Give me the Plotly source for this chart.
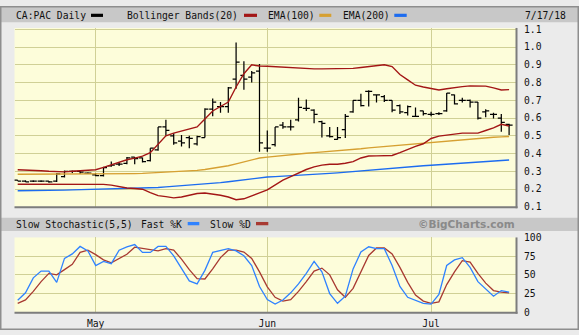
import plotly.graph_objects as go

# ---- trading days ----
dates = [
    "2018-04-17", "2018-04-18", "2018-04-19", "2018-04-20", "2018-04-23", "2018-04-24",
    "2018-04-25", "2018-04-26", "2018-04-27", "2018-04-30", "2018-05-01", "2018-05-02",
    "2018-05-03", "2018-05-04", "2018-05-07", "2018-05-08", "2018-05-09", "2018-05-10",
    "2018-05-11", "2018-05-14", "2018-05-15", "2018-05-16", "2018-05-17", "2018-05-18",
    "2018-05-22", "2018-05-23", "2018-05-24", "2018-05-25", "2018-05-28", "2018-05-29",
    "2018-05-30", "2018-05-31", "2018-06-01", "2018-06-04", "2018-06-05", "2018-06-06",
    "2018-06-07", "2018-06-08", "2018-06-11", "2018-06-12", "2018-06-13", "2018-06-14",
    "2018-06-15", "2018-06-18", "2018-06-19", "2018-06-20", "2018-06-21", "2018-06-22",
    "2018-06-25", "2018-06-26", "2018-06-27", "2018-06-28", "2018-06-29", "2018-07-03",
    "2018-07-04", "2018-07-05", "2018-07-06", "2018-07-09", "2018-07-10", "2018-07-11",
    "2018-07-12", "2018-07-13", "2018-07-16", "2018-07-17",
]

# ---- CA:PAC daily prices ----
open_ = [
    0.25, 0.245, 0.245, 0.245, 0.245, 0.245, 0.27, 0.30, 0.30, 0.29, 0.28, 0.275,
    0.33, 0.34, 0.345, 0.38, 0.375, 0.36, 0.42, 0.55, 0.50, 0.47, 0.49, 0.455,
    0.49, 0.65, 0.665, 0.665, 0.82, 0.84, 0.83, 0.865, 0.43, 0.45, 0.56, 0.55,
    0.59, 0.655, 0.645, 0.58, 0.50, 0.48, 0.535, 0.635, 0.70, 0.75, 0.73, 0.72,
    0.70, 0.67, 0.63, 0.61, 0.64, 0.62, 0.625, 0.64, 0.73, 0.70, 0.70, 0.69,
    0.635, 0.62, 0.60, 0.565,
]
high = [
    0.25, 0.25, 0.25, 0.25, 0.245, 0.29, 0.305, 0.305, 0.305, 0.295, 0.29, 0.325,
    0.355, 0.35, 0.38, 0.38, 0.378, 0.43, 0.55, 0.59, 0.515, 0.505, 0.50, 0.50,
    0.655, 0.71, 0.69, 0.775, 1.025, 0.92, 0.865, 0.905, 0.53, 0.55, 0.578, 0.59,
    0.715, 0.705, 0.65, 0.585, 0.55, 0.55, 0.623, 0.70, 0.737, 0.756, 0.732, 0.73,
    0.70, 0.677, 0.67, 0.66, 0.641, 0.636, 0.632, 0.741, 0.732, 0.714, 0.705, 0.69,
    0.65, 0.63, 0.623, 0.568,
]
low = [
    0.245, 0.24, 0.24, 0.24, 0.235, 0.24, 0.265, 0.29, 0.285, 0.285, 0.272, 0.27,
    0.325, 0.33, 0.34, 0.34, 0.35, 0.355, 0.415, 0.50, 0.45, 0.44, 0.43, 0.445,
    0.49, 0.61, 0.63, 0.63, 0.765, 0.76, 0.80, 0.41, 0.41, 0.44, 0.54, 0.53,
    0.58, 0.64, 0.57, 0.49, 0.49, 0.478, 0.487, 0.63, 0.665, 0.665, 0.687, 0.69,
    0.632, 0.623, 0.615, 0.61, 0.614, 0.61, 0.617, 0.636, 0.677, 0.687, 0.66, 0.592,
    0.605, 0.598, 0.523, 0.505,
]
close = [
    0.245, 0.24, 0.245, 0.245, 0.24, 0.285, 0.30, 0.30, 0.295, 0.29, 0.275, 0.32,
    0.335, 0.34, 0.375, 0.372, 0.355, 0.43, 0.55, 0.53, 0.46, 0.46, 0.485, 0.495,
    0.65, 0.69, 0.665, 0.77, 0.915, 0.82, 0.855, 0.46, 0.43, 0.55, 0.55, 0.55,
    0.66, 0.655, 0.62, 0.57, 0.495, 0.49, 0.61, 0.70, 0.67, 0.75, 0.73, 0.70,
    0.645, 0.635, 0.665, 0.61, 0.625, 0.62, 0.625, 0.74, 0.68, 0.70, 0.69, 0.60,
    0.64, 0.62, 0.575, 0.56,
]

# ---- overlays ----
bb_upper = [
    0.309, 0.308, 0.306, 0.303, 0.300, 0.297, 0.297, 0.300, 0.303, 0.306, 0.309, 0.322,
    0.337, 0.352, 0.365, 0.374, 0.385, 0.405, 0.455, 0.500, 0.515, 0.528, 0.540, 0.550,
    0.595, 0.640, 0.665, 0.690, 0.775, 0.850, 0.900, 0.893, 0.892, 0.889, 0.887, 0.882,
    0.879, 0.877, 0.877, 0.877, 0.877, 0.877, 0.877, 0.880, 0.885, 0.890, 0.896, 0.900,
    0.890, 0.845, 0.815, 0.785, 0.775, 0.768, 0.758, 0.765, 0.772, 0.777, 0.781, 0.781,
    0.780, 0.770, 0.758, 0.760,
]
bb_lower = [
    0.227, 0.227, 0.227, 0.227, 0.227, 0.227, 0.227, 0.227, 0.227, 0.227, 0.227, 0.226,
    0.222, 0.214, 0.206, 0.203, 0.199, 0.180, 0.163, 0.157, 0.150, 0.155, 0.165, 0.175,
    0.178, 0.172, 0.165, 0.155, 0.140, 0.145, 0.160, 0.178, 0.195, 0.225, 0.250, 0.270,
    0.290, 0.310, 0.325, 0.335, 0.340, 0.340, 0.345, 0.354, 0.375, 0.386, 0.387, 0.387,
    0.389, 0.405, 0.424, 0.440, 0.455, 0.485, 0.498, 0.505, 0.510, 0.515, 0.515, 0.515,
    0.530, 0.545, 0.565, 0.555,
]
ema100 = [
    0.283, 0.283, 0.283, 0.283, 0.283, 0.283, 0.283, 0.283, 0.284, 0.284, 0.284, 0.284,
    0.285, 0.285, 0.286, 0.287, 0.288, 0.290, 0.292, 0.294, 0.296, 0.299, 0.302, 0.305,
    0.310, 0.316, 0.323, 0.331, 0.342, 0.353, 0.364, 0.375, 0.380, 0.385, 0.390, 0.394,
    0.398, 0.402, 0.405, 0.408, 0.411, 0.414, 0.418, 0.422, 0.427, 0.432, 0.436, 0.440,
    0.444, 0.448, 0.452, 0.456, 0.460, 0.464, 0.468, 0.472, 0.476, 0.480, 0.483, 0.486,
    0.489, 0.492, 0.494, 0.496,
]
ema200 = [
    0.190, 0.190, 0.190, 0.190, 0.190, 0.192, 0.194, 0.195, 0.196, 0.197, 0.198, 0.199,
    0.200, 0.201, 0.202, 0.203, 0.204, 0.206, 0.209, 0.212, 0.215, 0.218, 0.221, 0.224,
    0.228, 0.232, 0.236, 0.241, 0.247, 0.253, 0.259, 0.265, 0.268, 0.270, 0.272, 0.274,
    0.276, 0.279, 0.282, 0.285, 0.288, 0.291, 0.295, 0.299, 0.303, 0.307, 0.311, 0.315,
    0.319, 0.322, 0.325, 0.328, 0.331, 0.334, 0.337, 0.340, 0.343, 0.346, 0.349, 0.352,
    0.355, 0.358, 0.361, 0.364,
]

# ---- slow stochastic (5,5) ----
fast_k = [
    16, 26, 46, 55, 55, 40, 72, 78, 88, 82, 62.5, 68, 65, 83, 87.5, 90.5,
    80, 80, 88, 88, 75.5, 58, 42, 38, 56, 80, 83, 85, 82, 75.5, 62.5, 34.5,
    17, 11, 16.5, 26, 38, 52, 68, 54, 25, 12, 21.5, 58, 80.5, 87.5, 85, 85,
    62.5, 34.5, 20, 16, 12, 11, 24, 62.5, 70, 73, 60, 41, 31, 21.5, 29, 27,
]
slow_d = [
    12, 16.5, 28, 41, 52, 50, 57, 64, 80, 83, 77, 70, 66, 72, 77.5, 87,
    85, 83, 82, 85, 83, 71, 57, 45, 44.5, 58, 73, 83, 83, 80.5, 72, 54,
    34, 20, 15, 17, 28, 41, 55, 59, 50, 30, 20, 32, 54, 76, 86, 86,
    78, 60, 40, 23, 15, 12, 14, 37, 54, 69, 67, 52, 39, 29, 27, 26,
]

price_ticks = [0.1, 0.2, 0.3, 0.4, 0.5, 0.6, 0.7, 0.8, 0.9, 1.0, 1.1]
stoch_ticks = [0, 25, 50, 75, 100]
month_ticks = ["2018-05-01", "2018-06-01", "2018-07-03"]
month_labels = ["May", "Jun", "Jul"]

# ---- styling ----
W, H = 579, 335
MONO = "DejaVu Sans Mono"
TXT = "#111111"
RED = "#a31616"
ORANGE = "#d6a032"
BLUE = "#1c6cf0"
GRID = "#d0d096"
PLOT_BG = "#fdfdda"
PAGE_BG = "#ebebeb"
BAND = "#c8c8c8"
EDGE = "#7d7d7d"


def fx(p):
    return p / W


def fy(p):
    return 1 - p / H


LEFT, RIGHT = 14.5, 516.0
MAIN_TOP, MAIN_BOT = 22.7, 207.6
ST_TOP, ST_BOT = 239.3, 316.7
X0, STEP = 17.7, 7.8
x_range = [(LEFT - X0) / STEP, (RIGHT - X0) / STEP]

fig = go.Figure()

fig.add_trace(go.Ohlc(
    x=dates, open=open_, high=high, low=low, close=close,
    increasing=dict(line=dict(color="#000000", width=1.25)),
    decreasing=dict(line=dict(color="#000000", width=1.25)),
    tickwidth=0.45, xaxis="x", yaxis="y", showlegend=False, hoverinfo="skip",
))
for ys, col in [(ema200, BLUE), (ema100, ORANGE), (bb_upper, RED), (bb_lower, RED)]:
    fig.add_trace(go.Scatter(
        x=dates, y=ys, mode="lines", line=dict(color=col, width=1.4),
        xaxis="x", yaxis="y", showlegend=False, hoverinfo="skip",
    ))

fig.add_trace(go.Scatter(
    x=dates, y=slow_d, mode="lines", line=dict(color="#a83a32", width=1.3),
    xaxis="x2", yaxis="y2", showlegend=False, hoverinfo="skip",
))
fig.add_trace(go.Scatter(
    x=dates, y=fast_k, mode="lines", line=dict(color="#2f82ff", width=1.3),
    xaxis="x2", yaxis="y2", showlegend=False, hoverinfo="skip",
))

axis_font = dict(family=MONO, size=9.7, color=TXT)
common_x = dict(
    type="category", categoryorder="array", categoryarray=dates,
    range=x_range, domain=[fx(LEFT), fx(RIGHT)],
    tickvals=month_ticks, ticktext=month_labels,
    showgrid=True, gridcolor=GRID, gridwidth=1,
    zeroline=False, showline=False, fixedrange=True,
    rangeslider=dict(visible=False),
)

fig.update_layout(
    width=W, height=H,
    margin=dict(l=0, r=0, t=0, b=0),
    paper_bgcolor=PAGE_BG, plot_bgcolor=PLOT_BG,
    showlegend=False,
    xaxis=dict(common_x, anchor="y", showticklabels=False, ticks=""),
    xaxis2=dict(common_x, anchor="y2", showticklabels=True, ticks="",
                tickfont=axis_font, ticklabelstandoff=4),
    yaxis=dict(
        domain=[fy(MAIN_BOT), fy(MAIN_TOP)], range=[0.1, 0.1 + (MAIN_BOT - MAIN_TOP) / 183.5],
        side="right", anchor="x", tickvals=price_ticks, tickformat=".1f",
        showgrid=True, gridcolor=GRID, gridwidth=1, zeroline=False,
        ticks="", tickfont=axis_font, ticklabelstandoff=7,
    ),
    yaxis2=dict(
        domain=[fy(ST_BOT), fy(ST_TOP)], range=[0, 100],
        side="right", anchor="x2", tickvals=stoch_ticks,
        showgrid=True, gridcolor=GRID, gridwidth=1, zeroline=False,
        ticks="", tickfont=axis_font, ticklabelstandoff=7,
    ),
)

shapes = []
# header bands
shapes.append(dict(type="rect", xref="paper", yref="paper", layer="below",
                   x0=0, x1=1, y0=fy(16.7), y1=1, fillcolor=BAND, line=dict(width=0)))
shapes.append(dict(type="rect", xref="paper", yref="paper", layer="below",
                   x0=0, x1=1, y0=fy(232.7), y1=fy(219), fillcolor=BAND, line=dict(width=0)))
# shadowed right/bottom edges of both panels
for top, bot in [(MAIN_TOP, MAIN_BOT), (ST_TOP, ST_BOT)]:
    shapes.append(dict(type="line", xref="paper", yref="paper",
                       x0=fx(RIGHT + 0.5), x1=fx(RIGHT + 0.5), y0=fy(top), y1=fy(bot + 1.5),
                       line=dict(color=EDGE, width=2)))
    shapes.append(dict(type="line", xref="paper", yref="paper",
                       x0=fx(LEFT), x1=fx(RIGHT + 1.5), y0=fy(bot + 0.5), y1=fy(bot + 0.5),
                       line=dict(color=EDGE, width=2)))
# legend swatches
for x0, x1, y0, y1, col in [
    (91, 103, 8, 11.3, "#000000"),
    (244, 257, 8, 11.3, RED),
    (319.3, 331.3, 8, 11.3, ORANGE),
    (394.3, 406.7, 8, 11.3, BLUE),
    (187.7, 199.3, 223.3, 226.7, "#2f82ff"),
    (256, 268.3, 223.3, 226.7, "#a83a32"),
]:
    shapes.append(dict(type="rect", xref="paper", yref="paper",
                       x0=fx(x0), x1=fx(x1), y0=fy(y1), y1=fy(y0),
                       fillcolor=col, line=dict(width=0)))
# outer frame
shapes.append(dict(type="rect", xref="paper", yref="paper",
                   x0=fx(0.75), x1=fx(578.25), y0=fy(334.25), y1=fy(0.75),
                   line=dict(color="#8e8e8e", width=1.5), fillcolor="rgba(0,0,0,0)"))
fig.update_layout(shapes=shapes)

annotations = []
for text, x, y in [
    ("CA:PAC Daily", 15, 9.5),
    ("Bollinger Bands(20)", 125.7, 9.5),
    ("EMA(100)", 266.7, 9.5),
    ("EMA(200)", 341.7, 9.5),
    ("7/17/18", 524.3, 9.5),
    ("Slow Stochastic(5,5)", 15, 225.7),
    ("Fast %K", 140.3, 225.7),
    ("Slow %D", 209.3, 225.7),
]:
    annotations.append(dict(text=text, xref="paper", yref="paper", x=fx(x), y=fy(y),
                            xanchor="left", yanchor="middle", showarrow=False,
                            borderpad=0, font=dict(family=MONO, size=9.7, color=TXT)))
annotations.append(dict(text="<b>©BigCharts.com</b>", xref="paper", yref="paper",
                        x=fx(515.7), y=fy(225.3), xanchor="right", yanchor="middle",
                        showarrow=False, borderpad=0,
                        font=dict(family="DejaVu Sans", size=10.5, color="#8a8a8a")))
fig.update_layout(annotations=annotations)

fig.write_html("out.html")
